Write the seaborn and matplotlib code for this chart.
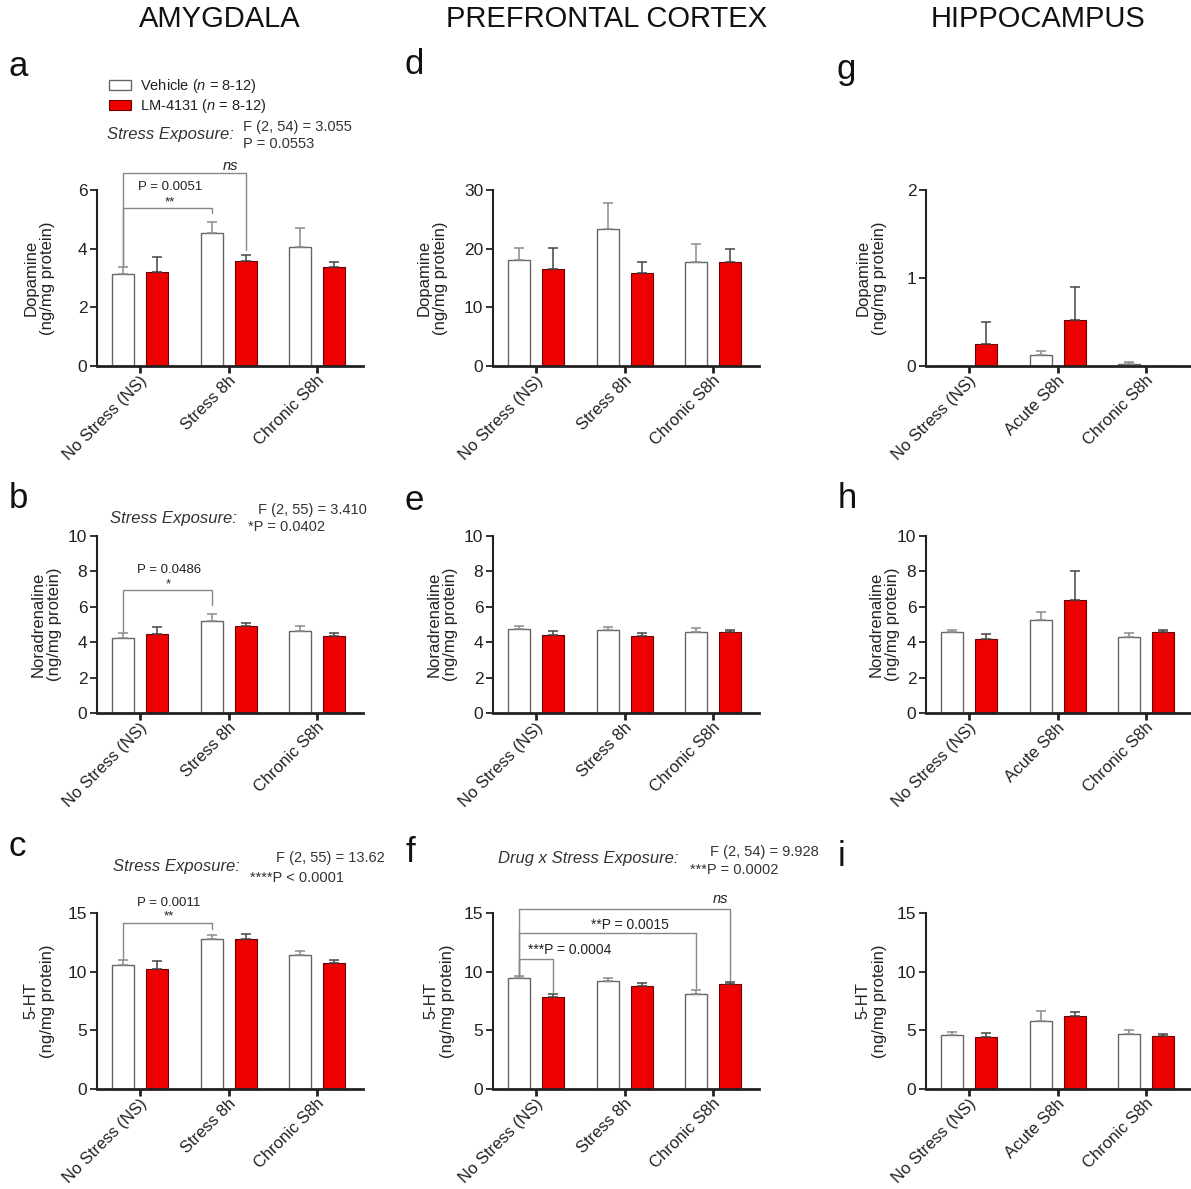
import numpy as np
import pandas as pd
import matplotlib
matplotlib.use('Agg')
import matplotlib.pyplot as plt
import seaborn as sns
from matplotlib.patches import Patch
from matplotlib.transforms import ScaledTranslation

# categories
stress_amy = ['No Stress (NS)', 'Stress 8h', 'Chronic S8h']
stress_hip = ['No Stress (NS)', 'Acute S8h', 'Chronic S8h']
drugs = ['Vehicle', 'LM-4131']

# a - amygdala dopamine
a_veh = [3.13, 4.52, 4.05]
a_veh_sem = [0.24, 0.40, 0.64]
a_lm = [3.22, 3.59, 3.39]
a_lm_sem = [0.48, 0.19, 0.17]
# b - amygdala noradrenaline
b_veh = [4.25, 5.22, 4.65]
b_veh_sem = [0.27, 0.39, 0.25]
b_lm = [4.44, 4.91, 4.37]
b_lm_sem = [0.42, 0.17, 0.17]
# c - amygdala 5-HT
c_veh = [10.6, 12.75, 11.38]
c_veh_sem = [0.4, 0.35, 0.4]
c_lm = [10.24, 12.75, 10.72]
c_lm_sem = [0.71, 0.45, 0.31]
# d - PFC dopamine
d_veh = [18.1, 23.3, 17.7]
d_veh_sem = [2.05, 4.4, 3.1]
d_lm = [16.5, 15.9, 17.7]
d_lm_sem = [3.6, 1.9, 2.3]
# e - PFC noradrenaline
e_veh = [4.75, 4.70, 4.55]
e_veh_sem = [0.19, 0.15, 0.24]
e_lm = [4.42, 4.36, 4.57]
e_lm_sem = [0.22, 0.15, 0.13]
# f - PFC 5-HT
f_veh = [9.43, 9.17, 8.12]
f_veh_sem = [0.17, 0.31, 0.28]
f_lm = [7.84, 8.75, 8.94]
f_lm_sem = [0.28, 0.31, 0.2]
# g - hippocampus dopamine
g_veh = [0.0, 0.12, 0.023]
g_veh_sem = [0.0, 0.05, 0.017]
g_lm = [0.25, 0.52, 0.0]
g_lm_sem = [0.255, 0.38, 0.0]
# h - hippocampus noradrenaline
h_veh = [4.56, 5.27, 4.27]
h_veh_sem = [0.15, 0.46, 0.23]
h_lm = [4.18, 6.41, 4.56]
h_lm_sem = [0.28, 1.62, 0.15]
# i - hippocampus 5-HT
i_veh = [4.6, 5.8, 4.69]
i_veh_sem = [0.23, 0.85, 0.31]
i_lm = [4.4, 6.22, 4.52]
i_lm_sem = [0.34, 0.34, 0.14]

sns.set_style('ticks')
plt.rcParams['font.family'] = ['Liberation Sans', 'DejaVu Sans']
plt.rcParams['mathtext.fontset'] = 'custom'
plt.rcParams['mathtext.rm'] = 'Liberation Sans'
plt.rcParams['mathtext.it'] = 'Liberation Sans:italic'

W, H = 1191, 1189
fig = plt.figure(figsize=(W / 100, H / 100), dpi=100)

RED = '#ee0000'
TXT = '#222222'
GREY = '#888888'


def fx(px):
    return px / W


def fy(py):
    return 1 - py / H


def make_ax(left, top, bottom, width=266):
    return fig.add_axes([fx(left), fy(bottom), width / W, (bottom - top) / H])


def draw(ax, cats, veh, veh_sem, lm, lm_sem, ymax, ystep, ylabel, lab_off):
    df = pd.DataFrame({
        'stress': cats * 2,
        'drug': [drugs[0]] * 3 + [drugs[1]] * 3,
        'value': veh + lm,
    })
    sns.barplot(data=df, x='stress', y='value', hue='drug', order=cats,
                hue_order=drugs, palette={'Vehicle': 'white', 'LM-4131': RED},
                width=0.77, gap=0.35, errorbar=None, legend=False, ax=ax,
                saturation=1)
    for b in ax.containers[0]:
        b.set_edgecolor('#666666')
        b.set_linewidth(1.0)
    for b in ax.containers[1]:
        b.set_edgecolor('#700000')
        b.set_linewidth(0.8)
    xs = []
    for cont, m, s, col in [(ax.containers[0], veh, veh_sem, '#8a8a8a'),
                            (ax.containers[1], lm, lm_sem, '#444444')]:
        cx = [b.get_x() + b.get_width() / 2 for b in cont]
        xs.append(cx)
        for x, mv, sv in zip(cx, m, s):
            if sv > 0:
                ax.errorbar(x, mv, yerr=[[0], [sv]], fmt='none', ecolor=col,
                            elinewidth=1.1, capsize=3.5, capthick=1.1, zorder=1)
    ax.set_xlim(-0.49, 2.52)
    ax.set_ylim(0, ymax)
    ticks = np.arange(0, ymax + ystep / 2, ystep)
    ax.set_yticks(ticks)
    ax.set_yticklabels([f'{int(t)}' for t in ticks])
    sns.despine(ax=ax)
    ax.spines['left'].set_linewidth(1.5)
    ax.spines['bottom'].set_linewidth(2.0)
    ax.spines['left'].set_color(TXT)
    ax.spines['bottom'].set_color(TXT)
    ax.tick_params(axis='y', length=5, width=1.3, labelsize=12.5, colors=TXT, pad=2)
    ax.tick_params(axis='x', length=5, width=2.0, labelsize=12, colors=TXT, pad=3)
    ax.set_xlabel('')
    ax.set_ylabel(ylabel, fontsize=12, color=TXT, linespacing=1.1)
    ax.yaxis.set_label_coords(lab_off / 266, 0.5)
    ax.set_xticks(range(3))
    ax.set_xticklabels(cats, rotation=45, ha='right', va='center',
                       rotation_mode='anchor')
    for lab in ax.get_xticklabels():
        lab.set_transform(lab.get_transform() + ScaledTranslation(0.05, -0.01, fig.dpi_scale_trans))
    return xs


def bracket(ax, x1, x2, y, low1, low2):
    ax.plot([x1, x1, x2, x2], [low1, y, y, low2], color=GREY, lw=1.0,
            clip_on=False, zorder=3)


cols = [97, 493, 926]
rows = [(190, 366), (536, 713), (913, 1089)]
da = 'Dopamine\n(ng/mg protein)'
na = 'Noradrenaline\n(ng/mg protein)'
ht = '5-HT\n(ng/mg protein)'

ax_a = make_ax(cols[0], *rows[0])
xa = draw(ax_a, stress_amy, a_veh, a_veh_sem, a_lm, a_lm_sem, 6, 2, da, -42)
ax_b = make_ax(cols[0], *rows[1])
xb = draw(ax_b, stress_amy, b_veh, b_veh_sem, b_lm, b_lm_sem, 10, 2, na, -35)
ax_c = make_ax(cols[0], *rows[2])
xc = draw(ax_c, stress_amy, c_veh, c_veh_sem, c_lm, c_lm_sem, 15, 5, ht, -42)
ax_d = make_ax(cols[1], *rows[0])
xd = draw(ax_d, stress_amy, d_veh, d_veh_sem, d_lm, d_lm_sem, 30, 10, da, -45)
ax_e = make_ax(cols[1], *rows[1])
xe = draw(ax_e, stress_amy, e_veh, e_veh_sem, e_lm, e_lm_sem, 10, 2, na, -35)
ax_f = make_ax(cols[1], *rows[2])
xf = draw(ax_f, stress_amy, f_veh, f_veh_sem, f_lm, f_lm_sem, 15, 5, ht, -38)
ax_g = make_ax(cols[2], *rows[0])
xg = draw(ax_g, stress_hip, g_veh, g_veh_sem, g_lm, g_lm_sem, 2, 1, da, -39)
ax_h = make_ax(cols[2], *rows[1])
xh = draw(ax_h, stress_hip, h_veh, h_veh_sem, h_lm, h_lm_sem, 10, 2, na, -26)
ax_i = make_ax(cols[2], *rows[2])
xi = draw(ax_i, stress_hip, i_veh, i_veh_sem, i_lm, i_lm_sem, 15, 5, ht, -39)

# significance brackets
sm = dict(color=TXT, ha='center', va='center', clip_on=False)
bracket(ax_a, xa[0][0], xa[0][1], 5.4, 3.4, 5.23)
bracket(ax_a, xa[0][0], xa[1][1], 6.57, 3.4, 3.95)
ax_a.text(0.34, 6.1, 'P = 0.0051', fontsize=9.5, **sm)
ax_a.text(0.34, 5.57, '**', fontsize=9.5, **sm)
ax_a.text(1.02, 6.82, 'ns', fontsize=10.5, style='italic', **sm)

bracket(ax_b, xb[0][0], xb[0][1], 6.93, 4.6, 6.08)
ax_b.text(0.32, 8.1, 'P = 0.0486', fontsize=9.5, **sm)
ax_b.text(0.32, 7.25, '*', fontsize=9.5, **sm)

bracket(ax_c, xc[0][0], xc[0][1], 14.15, 11.05, 13.64)
ax_c.text(0.32, 15.85, 'P = 0.0011', fontsize=9.5, **sm)
ax_c.text(0.32, 14.7, '**', fontsize=9.5, **sm)

bracket(ax_f, xf[0][0], xf[1][2], 15.35, 9.65, 9.25)
bracket(ax_f, xf[0][0], xf[0][2], 13.3, 9.65, 8.6)
bracket(ax_f, xf[0][0], xf[1][0], 11.1, 9.65, 8.2)
ax_f.text(2.08, 16.2, 'ns', fontsize=10.5, style='italic', **sm)
ax_f.text(1.06, 14.0, '**P = 0.0015', fontsize=10, **sm)
ax_f.text(0.38, 11.85, '***P = 0.0004', fontsize=10, **sm)

# stats text
st = dict(color='#333333', va='center')
fig.text(fx(107), fy(134), 'Stress Exposure:', fontsize=12, style='italic', **st)
fig.text(fx(243), fy(127), 'F (2, 54) = 3.055', fontsize=10.5, **st)
fig.text(fx(243), fy(144), 'P = 0.0553', fontsize=10.5, **st)

fig.text(fx(110), fy(518), 'Stress Exposure:', fontsize=12, style='italic', **st)
fig.text(fx(258), fy(510), 'F (2, 55) = 3.410', fontsize=10.5, **st)
fig.text(fx(248), fy(527), '*P = 0.0402', fontsize=10.5, **st)

fig.text(fx(113), fy(866), 'Stress Exposure:', fontsize=12, style='italic', **st)
fig.text(fx(276), fy(858), 'F (2, 55) = 13.62', fontsize=10.5, **st)
fig.text(fx(250), fy(878), '****P < 0.0001', fontsize=10.5, **st)

fig.text(fx(498), fy(858), 'Drug x Stress Exposure:', fontsize=12, style='italic', **st)
fig.text(fx(710), fy(852), 'F (2, 54) = 9.928', fontsize=10.5, **st)
fig.text(fx(690), fy(870), '***P = 0.0002', fontsize=10.5, **st)

# legend
handles = [Patch(facecolor='white', edgecolor='#666666', lw=1.0),
           Patch(facecolor=RED, edgecolor='#700000', lw=0.8)]
fig.legend(handles, ['Vehicle ($n$ = 8-12)', 'LM-4131 ($n$ = 8-12)'],
           loc='upper left', bbox_to_anchor=(fx(109), fy(77)), frameon=False,
           fontsize=10.5, handlelength=1.5, handleheight=0.75, labelspacing=0.15,
           borderpad=0, borderaxespad=0, handletextpad=0.6, labelcolor=TXT)

# column titles
for xc_, t in [(220, 'AMYGDALA'), (607, 'PREFRONTAL CORTEX'), (1038, 'HIPPOCAMPUS')]:
    fig.text(fx(xc_), fy(19), t, fontsize=21, ha='center', va='center', color='#111111')

# panel letters
for x, y, t in [(9, 66, 'a'), (405, 64, 'd'), (836, 70, 'g'),
                (9, 498, 'b'), (405, 500, 'e'), (838, 498, 'h'),
                (9, 846, 'c'), (405, 852, 'f'), (838, 856, 'i')]:
    fig.text(fx(x), fy(y), t, fontsize=25, ha='left', va='center', color='#111111')

fig.savefig('out.png', dpi=100)
